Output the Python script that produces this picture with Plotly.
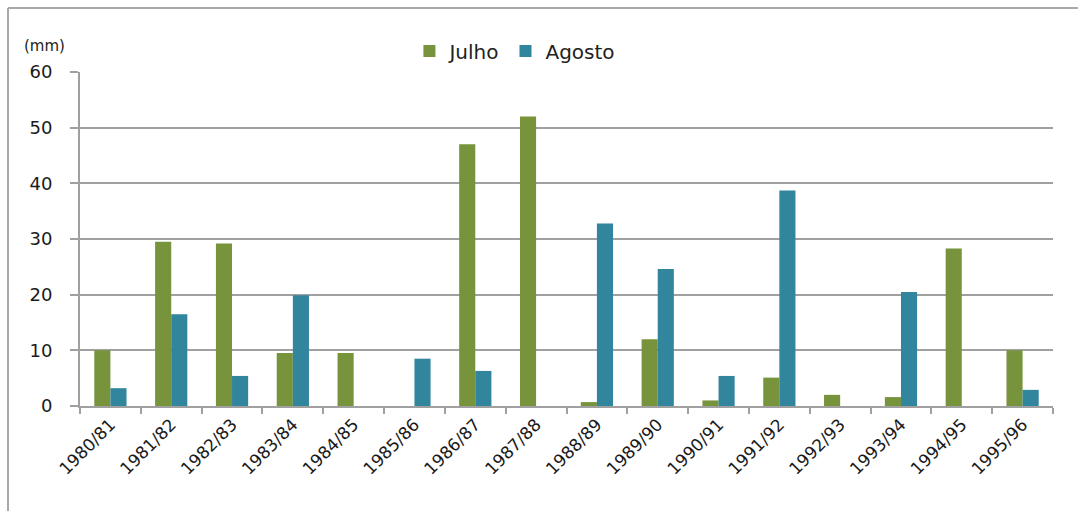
import plotly.graph_objects as go

categories = ["1980/81", "1981/82", "1982/83", "1983/84", "1984/85", "1985/86",
              "1986/87", "1987/88", "1988/89", "1989/90", "1990/91", "1991/92",
              "1992/93", "1993/94", "1994/95", "1995/96"]
julho = [10.0, 29.5, 29.2, 9.5, 9.5, 0, 47.0, 52.0, 0.7, 12.0, 1.0, 5.1, 2.0, 1.6, 28.3, 10.0]
agosto = [3.2, 16.5, 5.4, 19.9, 0, 8.5, 6.3, 0, 32.8, 24.6, 5.4, 38.7, 0, 20.5, 0, 2.9]
y_ticks = [0, 10, 20, 30, 40, 50, 60]

W, H = 1078, 511
L, R, T, B = 80, 25, 72, 105
pw, ph = W - L - R, H - T - B

def px(x):
    return (x - L) / pw

def py(y):
    return (H - B - y) / ph

fig = go.Figure()
fig.add_trace(go.Bar(x=categories, y=julho, name="Julho", marker_color="#77933C",
                     marker_line_width=0))
fig.add_trace(go.Bar(x=categories, y=agosto, name="Agosto", marker_color="#31859C",
                     marker_line_width=0))

fig.update_layout(
    width=W, height=H,
    margin=dict(l=L, r=R, t=T, b=B, pad=0),
    paper_bgcolor="white", plot_bgcolor="white",
    barmode="group", bargap=0.47, bargroupgap=0,
    font=dict(family="DejaVu Sans", color="#1a1a1a"),
    legend=dict(orientation="h", x=0.447, xanchor="center", y=py(51), yanchor="middle",
                font=dict(size=20, color="#222"), itemwidth=30, traceorder="normal",
                bgcolor="rgba(0,0,0,0)"),
    xaxis=dict(type="category", showline=True, linecolor="#a0a0a0", linewidth=2,
               ticks="outside", tickson="boundaries", ticklen=6, tickcolor="#a0a0a0",
               tickwidth=1.5, tickangle=-45, tickfont=dict(size=17, color="#1a1a1a"),
               showgrid=False),
    yaxis=dict(range=[0, 60], tickvals=y_ticks, showline=True, linecolor="#a0a0a0",
               linewidth=2, showgrid=True, gridcolor="#a0a0a0", gridwidth=1.8,
               ticks="outside", ticklen=8, tickcolor="#a0a0a0", tickwidth=1.5,
               ticklabelstandoff=14,
               tickfont=dict(size=18, color="#1a1a1a"), zeroline=False),
    shapes=[
        dict(type="line", xref="paper", yref="paper", x0=px(8), x1=px(1078), y0=py(8), y1=py(8),
             line=dict(color="#a8a8a8", width=2)),
        dict(type="line", xref="paper", yref="paper", x0=px(8), x1=px(8), y0=py(8), y1=py(511),
             line=dict(color="#a8a8a8", width=2)),
    ],
    annotations=[
        dict(text="(mm)", xref="paper", yref="paper", x=px(22), y=py(46), xanchor="left",
             yanchor="middle", showarrow=False, font=dict(size=15, color="#222")),
    ],
)

fig.write_html("out.html")
